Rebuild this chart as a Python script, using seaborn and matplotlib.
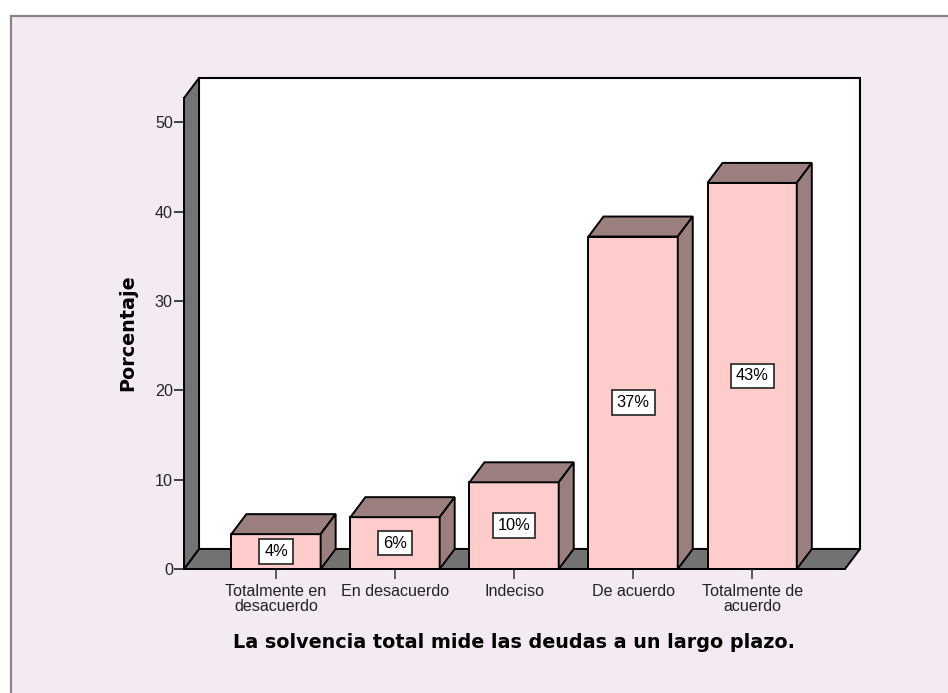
import matplotlib
matplotlib.use("Agg")
import matplotlib.pyplot as plt
import seaborn as sns
import pandas as pd
import numpy as np
from matplotlib.patches import Polygon, Rectangle

categories = ["Totalmente en\ndesacuerdo", "En desacuerdo", "Indeciso", "De acuerdo", "Totalmente de\nacuerdo"]
values = [3.9, 5.8, 9.7, 37.2, 43.2]
yticks = [0, 10, 20, 30, 40, 50]
xlabel = "La solvencia total mide las deudas a un largo plazo."
ylabel = "Porcentaje"

sns.set_style("white")
plt.rcParams["font.family"] = ["Liberation Sans", "DejaVu Sans"]

W, H = 948, 693
fig = plt.figure(figsize=(W / 100, H / 100), dpi=100, facecolor="white")

# outer lavender frame
fig.patches.append(Rectangle((10.5 / W, -0.05), (W + 20) / W, (H - 15.5) / H + 0.05,
                             transform=fig.transFigure, facecolor="#F4EAF4",
                             edgecolor="#858585", linewidth=1.6, zorder=-10))

ax = fig.add_axes([184 / W, (H - 569) / H, 661 / W, 471 / H])
ax.set_facecolor("none")

df = pd.DataFrame({"cat": categories, "val": values})
sns.barplot(data=df, x="cat", y="val", color="#FFCCCC", saturation=1,
            edgecolor="black", linewidth=1.4, width=0.75, ax=ax, zorder=5)

xmin, xmax = -0.773, 4.78
ymin, ymax = 0, 52.7
ax.set_xlim(xmin, xmax)
ax.set_ylim(ymin, ymax)

# depth offset in data units (15 px right, 20 px up)
p0 = ax.transData.transform([(0, 0)])
q = ax.transData.inverted().transform(p0 + np.array([[15, 20]]))[0]
dx, dy = q[0], q[1]

wall = "#737373"
side = "#9B7F7F"
# back wall
ax.add_patch(Polygon([(xmin + dx, dy), (xmax + dx, dy), (xmax + dx, ymax + dy), (xmin + dx, ymax + dy)],
                     closed=True, facecolor="white", edgecolor="black", linewidth=1.5,
                     clip_on=False, zorder=1))
# floor
ax.add_patch(Polygon([(xmin, 0), (xmax, 0), (xmax + dx, dy), (xmin + dx, dy)],
                     closed=True, facecolor=wall, edgecolor="black", linewidth=1.4,
                     clip_on=False, zorder=2))
# left wall
ax.add_patch(Polygon([(xmin, 0), (xmin, ymax), (xmin + dx, ymax + dy), (xmin + dx, dy)],
                     closed=True, facecolor=wall, edgecolor="black", linewidth=1.4,
                     clip_on=False, zorder=3))

for p in list(ax.patches):
    if not isinstance(p, Rectangle):
        continue
    x0, w, h = p.get_x(), p.get_width(), p.get_height()
    ax.add_patch(Polygon([(x0, h), (x0 + w, h), (x0 + w + dx, h + dy), (x0 + dx, h + dy)],
                         closed=True, facecolor=side, edgecolor="black", linewidth=1.4,
                         clip_on=False, zorder=6))
    ax.add_patch(Polygon([(x0 + w, 0), (x0 + w, h), (x0 + w + dx, h + dy), (x0 + w + dx, dy)],
                         closed=True, facecolor=side, edgecolor="black", linewidth=1.4,
                         clip_on=False, zorder=6))

for i, v in enumerate(values):
    ax.text(i, v / 2, f"{round(v)}%", ha="center", va="center", fontsize=11.8,
            color="black", zorder=8,
            bbox=dict(boxstyle="square,pad=0.3", facecolor="white", edgecolor="#333333", linewidth=1.3))

for s in ["top", "right"]:
    ax.spines[s].set_visible(False)
for s in ["left", "bottom"]:
    ax.spines[s].set_color("black")
    ax.spines[s].set_linewidth(1.4)
    ax.spines[s].set_zorder(7)

ax.set_yticks(yticks)
ax.set_yticklabels([str(t) for t in yticks])
ax.set_xticks(range(len(categories)))
ax.set_xticklabels(categories, linespacing=0.95)
ax.tick_params(axis="y", length=7, width=1.2, pad=1, labelsize=11.6, colors="#222222", left=True)
ax.tick_params(axis="x", length=7, width=1.2, pad=4, labelsize=11.6, colors="#222222", bottom=True)
ax.tick_params(axis="x", color="#444444")

ax.set_xlabel(xlabel, fontsize=13.8, fontweight="bold", family="DejaVu Sans", va="center", color="black")
ax.set_ylabel(ylabel, fontsize=13.8, fontweight="bold", family="DejaVu Sans", va="center", color="black")
ax.xaxis.set_label_coords((514 - 184) / 661, (569 - 643) / 471)
ax.yaxis.set_label_coords((128 - 184) / 661, (569 - 333) / 471)

fig.savefig("out.png", dpi=100, facecolor="white")
